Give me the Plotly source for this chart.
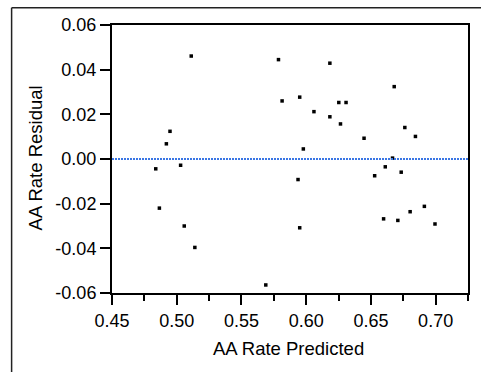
import plotly.graph_objects as go

predicted = [0.4838, 0.4866, 0.4920, 0.4948, 0.5030, 0.5058, 0.5112, 0.5140,
             0.5688, 0.5786, 0.5814, 0.5937, 0.5950, 0.5950, 0.5978, 0.6060,
             0.6183, 0.6183, 0.6252, 0.6265, 0.6308, 0.6447, 0.6529, 0.6598,
             0.6611, 0.6667, 0.6680, 0.6708, 0.6734, 0.6762, 0.6803, 0.6844,
             0.6913, 0.6995]
residual = [-0.0044, -0.0220, 0.0068, 0.0124, -0.0028, -0.0300, 0.0461, -0.0396,
            -0.0564, 0.0445, 0.0260, -0.0092, 0.0277, -0.0308, 0.0045, 0.0212,
            0.0429, 0.0189, 0.0253, 0.0157, 0.0253, 0.0093, -0.0075, -0.0268,
            -0.0035, 0.0004, 0.0324, -0.0275, -0.0059, 0.0141, -0.0236, 0.0101,
            -0.0212, -0.0291]
x_ticks = [0.45, 0.50, 0.55, 0.60, 0.65, 0.70]
x_ticklabels = ["0.45", "0.50", "0.55", "0.60", "0.65", "0.70"]
y_ticks = [-0.06, -0.04, -0.02, 0.0, 0.02, 0.04, 0.06]
y_ticklabels = ["-0.06", "-0.04", "-0.02", "0.00", "0.02", "0.04", "0.06"]
x_range = [0.45, 0.725]
y_range = [-0.06, 0.06]
x_title = "AA Rate Predicted"
y_title = "AA Rate Residual"

font = "Liberation Sans, Arial, sans-serif"

fig = go.Figure()
fig.add_trace(go.Scatter(
    x=predicted, y=residual, mode="markers",
    marker=dict(symbol="square", size=3.5, color="black", line=dict(width=0)),
    hoverinfo="skip", showlegend=False,
))

fig.update_layout(
    width=481, height=372,
    margin=dict(l=112, r=11, t=25, b=79),
    paper_bgcolor="white", plot_bgcolor="white",
    font=dict(family=font, size=18, color="black"),
    showlegend=False,
    xaxis=dict(
        range=x_range, tickvals=x_ticks, ticktext=x_ticklabels,
        showgrid=False, zeroline=False,
        showline=True, linecolor="black", linewidth=2, mirror=True,
        ticks="outside", ticklen=10, tickwidth=1.5, tickcolor="black",
        minor=dict(dtick=0.025, tick0=0.45, ticks="outside", ticklen=6, tickwidth=1.5,
                   tickcolor="black", showgrid=False),
        tickfont=dict(size=18, family=font),
    ),
    yaxis=dict(
        range=y_range, tickvals=y_ticks, ticktext=y_ticklabels,
        showgrid=False, zeroline=False,
        showline=True, linecolor="black", linewidth=2, mirror=True,
        ticks="outside", ticklen=10, tickwidth=1.5, tickcolor="black",
        tickfont=dict(size=18, family=font),
    ),
    shapes=[
        # zero reference line
        dict(type="line", xref="paper", yref="y", x0=0, x1=1, y0=0, y1=0,
             line=dict(color="#3a76e4", width=2, dash="2px,1px")),
        # right border extension below axis
        dict(type="line", xref="paper", yref="paper", x0=1, x1=1, y0=0, y1=-0.028,
             line=dict(color="black", width=2)),
        # outer frame (top and left)
        dict(type="line", xref="paper", yref="paper", x0=-0.282, x1=1.2, y0=1.064, y1=1.064,
             line=dict(color="#222", width=1.5)),
        dict(type="line", xref="paper", yref="paper", x0=-0.282, x1=-0.282, y0=1.064, y1=-0.4,
             line=dict(color="#222", width=1.5)),
    ],
    annotations=[
        dict(text=x_title, xref="paper", yref="paper", x=0.497, y=-0.2076,
             xanchor="center", yanchor="middle", showarrow=False,
             font=dict(size=18.5, family=font)),
        dict(text=y_title, xref="paper", yref="paper", x=-0.215, y=0.504,
             xanchor="center", yanchor="middle", showarrow=False, textangle=-90,
             font=dict(size=18.5, family=font)),
    ],
)

fig.write_html("out.html", config={"displayModeBar": False},
               post_script="document.body.style.margin='0';document.body.style.overflow='hidden';")
